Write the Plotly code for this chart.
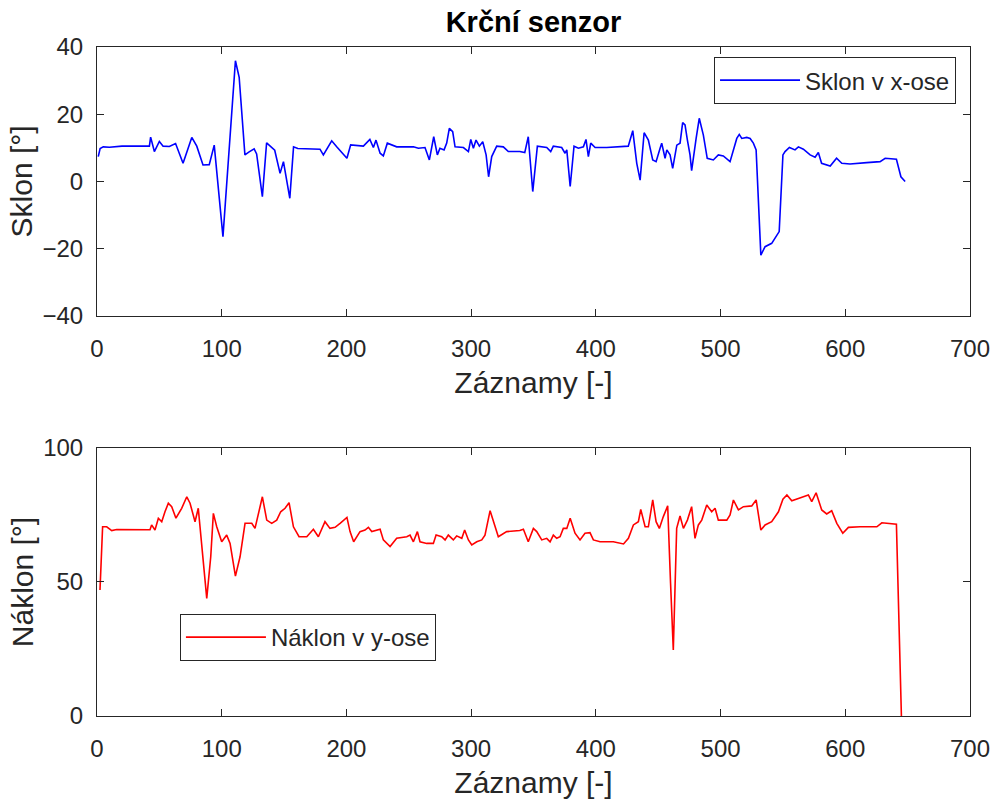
import plotly.graph_objects as go

# ---- Data ----
sklon_x = [1, 2.5, 5, 10, 20, 30, 42, 43, 46, 50, 53, 58, 63, 69, 76, 80, 85, 90, 94,
           101, 106, 111, 114, 118.6, 122, 126, 128, 132.6, 136, 140, 142.5, 146.8, 149.5,
           154.6, 157.6, 161, 170, 178.8, 181.5, 188.2, 192.2, 200.4, 203.4, 213.6, 218.8,
           221.6, 223.7, 227, 229.6, 232.8, 240.3, 253.7, 257.7, 263, 266.5, 270, 272.9,
           275, 278.3, 280.4, 282.5, 285.2, 287.1, 293.8, 297.8, 299.7, 301.8, 303.9, 306.6,
           309.3, 312, 314, 316.5, 320.5, 325.8, 329.8, 339, 343, 345.8, 349.4, 353.1, 356.6,
           360.6, 363.8, 365.9, 372.6, 375.3, 376.7, 379.4, 382.5, 386, 390, 392.1, 394,
           395.9, 399.4, 408.7, 426, 429.6, 432.8, 435.5, 438.7, 442.1, 445.6, 448.3, 451.5,
           452.8, 455.5, 456.9, 459.5, 461.6, 464.9, 467.5, 469.6, 471.5, 473.4, 475.5, 476.8,
           478.2, 480.4, 482.9, 486.2, 489.3, 494.2, 498.2, 502.2, 507.6, 510.3, 513, 515,
           517, 521, 523.7, 526.3, 528.5, 532.3, 535.7, 541, 543.7, 547, 550, 551.7, 555.2,
           559.7, 562.4, 566.4, 571.8, 575.8, 578.4, 581, 587.9, 593, 597.2, 603.8, 617.2,
           627.9, 632, 641, 644.6, 648]
sklon_y = [7.4, 9.8, 10.3, 10.2, 10.5, 10.4, 10.5, 13.2, 8.9, 11.9, 10.5, 10.4, 11.3, 5.4,
           13.1, 10.5, 4.9, 5.0, 10.8, -16.4, 9.4, 35.9, 31.0, 7.9, 8.8, 9.7, 8.2, -4.5, 11.5,
           10.3, 9.3, 2.4, 5.9, -5.0, 10.3, 9.8, 9.6, 9.6, 7.9, 12.1, 10.3, 6.9, 10.9, 10.5,
           12.5, 10.1, 12.3, 8.4, 7.6, 11.4, 10.3, 10.3, 9.9, 10.1, 6.4, 13.3, 7.9, 9.9, 9.4,
           11.4, 15.8, 14.8, 10.3, 10.1, 8.9, 12.5, 9.9, 12.3, 10.5, 11.8, 7.9, 1.4, 7.4, 10.5,
           10.3, 8.9, 8.9, 8.6, 13.3, -3.0, 10.5, 10.3, 10.1, 8.9, 10.5, 10.1, 8.4, 9.4, -1.5,
           10.5, 9.9, 10.3, 12.5, 7.4, 11.4, 10.1, 10.1, 10.5, 15.1, 5.4, 0.4, 14.5, 12.3, 6.4,
           5.9, 9.9, 11.4, 6.9, 9.4, 7.9, 3.9, 10.8, 11.4, 17.5, 16.8, 12.3, 7.9, 3.2, 7.4,
           12.8, 18.8, 13.8, 6.9, 6.4, 7.9, 7.6, 5.9, 9.4, 12.8, 14.0, 12.8, 13.1, 12.8, 11.4,
           9.4, -21.9, -19.4, -18.4, -16.9, -14.9, 7.9, 8.9, 10.1, 9.4, 10.3, 9.6, 7.9, 7.2,
           8.6, 5.4, 4.6, 6.9, 5.4, 5.2, 5.6, 5.9, 6.9, 6.6, 1.4, 0.0]

naklon_x = [2.4, 4.5, 7.8, 11.8, 15.8, 42.5, 43.8, 46.5, 49.2, 51.9, 54.5, 57.2, 59.9, 63.3,
            67.9, 72, 74.6, 78.6, 81.2, 83.9, 88, 91.2, 93.3, 96, 100, 104, 106.7, 111, 114.7,
            118.7, 124.1, 126.7, 129.4, 132.6, 136.1, 140.1, 144.1, 147.3, 150.8, 154, 157.5,
            162, 168.2, 173.5, 177.5, 182.8, 186.8, 190.9, 194.9, 200.4, 202.9, 205.8, 210.9,
            214.9, 217.6, 220.3, 227, 229.6, 235, 240.3, 248.4, 251, 253.7, 256.9, 259, 264.4,
            269.7, 271.9, 276.4, 279.1, 281.7, 285.7, 288.4, 292.5, 294.8, 297.8, 300.5, 304.5,
            308.5, 311.1, 315.2, 317.8, 321.8, 328.5, 339, 341.9, 345.8, 349.9, 352.6, 356.6,
            360.6, 363.3, 365.9, 368.6, 371.3, 373.9, 376.7, 379.4, 383.3, 387.3, 391.3, 395.3,
            398, 403.4, 414, 422.2, 426.1, 430.1, 434.1, 436, 439.5, 442.1, 445.6, 448.3, 450.9,
            454.1, 457.6, 459.9, 462.1, 464.8, 467.5, 470.2, 473.4, 476.8, 479.5, 482.2, 484.9,
            488.9, 492.9, 495.6, 498.2, 505, 507.6, 510.3, 514.3, 518.3, 525, 528.5, 532.3,
            535.7, 541, 546.4, 550, 553.2, 557.1, 562.4, 570.4, 573.1, 576.6, 581.1, 585.1,
            589.1, 593.2, 598, 602.5, 611.9, 625.3, 629.3, 641, 645]
naklon_y = [47.0, 70.6, 70.6, 69.2, 69.6, 69.5, 71.3, 69.4, 73.8, 72.5, 76.2, 79.4, 78.1, 73.8,
            77.5, 81.8, 79.4, 72.5, 77.5, 64.4, 43.9, 59.4, 75.6, 70.6, 65.0, 67.5, 64.4, 52.2,
            59.4, 71.9, 71.9, 70.0, 75.0, 81.8, 73.1, 71.9, 73.1, 76.2, 77.5, 79.6, 70.6, 66.9,
            66.9, 69.7, 66.9, 72.5, 70.0, 70.4, 71.9, 74.1, 68.8, 65.0, 68.8, 69.4, 70.4, 68.8,
            69.7, 65.7, 63.2, 66.3, 66.9, 67.5, 65.0, 68.8, 65.0, 64.4, 64.4, 67.5, 66.9, 65.7,
            67.5, 65.7, 67.2, 66.3, 69.4, 65.7, 63.8, 65.0, 65.7, 67.5, 76.6, 73.1, 66.9, 68.8,
            69.2, 69.7, 65.0, 70.0, 68.8, 65.7, 66.3, 65.0, 67.5, 66.3, 66.9, 70.0, 70.0, 73.8,
            68.2, 65.7, 68.2, 68.4, 65.7, 65.0, 65.0, 64.2, 66.3, 71.3, 72.5, 77.1, 70.6, 70.6,
            80.6, 72.5, 70.0, 74.4, 78.4, 49.5, 24.6, 70.0, 74.6, 70.0, 73.1, 78.1, 66.3, 71.3,
            73.1, 78.7, 76.2, 77.5, 73.1, 73.1, 75.0, 80.6, 76.9, 78.1, 78.4, 80.6, 69.4, 71.3,
            72.5, 76.2, 80.9, 82.5, 80.3, 81.2, 82.5, 80.0, 83.3, 76.9, 75.4, 76.6, 71.9, 68.2,
            70.4, 70.6, 70.6, 72.1, 71.6, 0.0]

x_ticks = [0, 100, 200, 300, 400, 500, 600, 700]
sklon_ticks = [-40, -20, 0, 20, 40]
naklon_ticks = [0, 50, 100]

FONT = "Liberation Sans, Arial, Helvetica, sans-serif"
AX = "#262626"
TICK_FONT = 24
LABEL_FONT = 30

fig = go.Figure()
fig.add_trace(go.Scatter(x=sklon_x, y=sklon_y, mode="lines", name="Sklon v x-ose",
                         line=dict(color="#0000FF", width=1.6), xaxis="x", yaxis="y",
                         legend="legend"))
fig.add_trace(go.Scatter(x=naklon_x, y=naklon_y, mode="lines", name="Náklon v y-ose",
                         line=dict(color="#FF0000", width=1.6), xaxis="x2", yaxis="y2",
                         legend="legend2"))

def xax(anchor):
    return dict(range=[0, 700], tickvals=x_ticks, showline=True, linecolor=AX, linewidth=1,
                mirror="ticks", ticks="inside", ticklen=7, tickcolor=AX, tickwidth=1,
                showgrid=False, zeroline=False, anchor=anchor, automargin=False,
                tickfont=dict(family=FONT, size=TICK_FONT, color=AX),
                ticklabelstandoff=11,
                title=dict(text="Záznamy [-]", font=dict(family=FONT, size=LABEL_FONT, color=AX),
                           standoff=11))

def yax(rng, ticks, title, dom, anchor):
    return dict(range=rng, tickvals=ticks, showline=True, linecolor=AX, linewidth=1,
                mirror="ticks", ticks="inside", ticklen=7, tickcolor=AX, tickwidth=1,
                showgrid=False, zeroline=False, domain=dom, anchor=anchor, automargin=False,
                tickfont=dict(family=FONT, size=TICK_FONT, color=AX),
                ticklabelstandoff=8,
                title=dict(text=title, font=dict(family=FONT, size=LABEL_FONT, color=AX),
                           standoff=0))

fig.update_layout(
    width=993, height=807,
    margin=dict(l=97, r=23, t=47, b=91),
    paper_bgcolor="white", plot_bgcolor="white",
    showlegend=True,
    xaxis=xax("y"),
    yaxis=yax([-40, 40], sklon_ticks, "Sklon [°]", [0.598, 1.0], "x"),
    xaxis2=xax("y2"),
    yaxis2=yax([0, 100], naklon_ticks, "Náklon [°]", [0.0, 0.4006], "x2"),
    title=dict(text="<b>Krční senzor</b>", x=0.5, xref="paper", xanchor="center",
               y=1 - 22 / 807, yref="container", yanchor="middle",
               font=dict(family=FONT, size=29, color="black")),
    legend=dict(x=0.984, y=0.985, xanchor="right", yanchor="top", bgcolor="white",
                bordercolor=AX, borderwidth=1, itemwidth=80,
                font=dict(family=FONT, size=24, color=AX)),
    legend2=dict(x=0.095, y=0.1525, xanchor="left", yanchor="top", bgcolor="white",
                 bordercolor=AX, borderwidth=1, itemwidth=80,
                 font=dict(family=FONT, size=24, color=AX)),
)

fig.write_html("out.html")
